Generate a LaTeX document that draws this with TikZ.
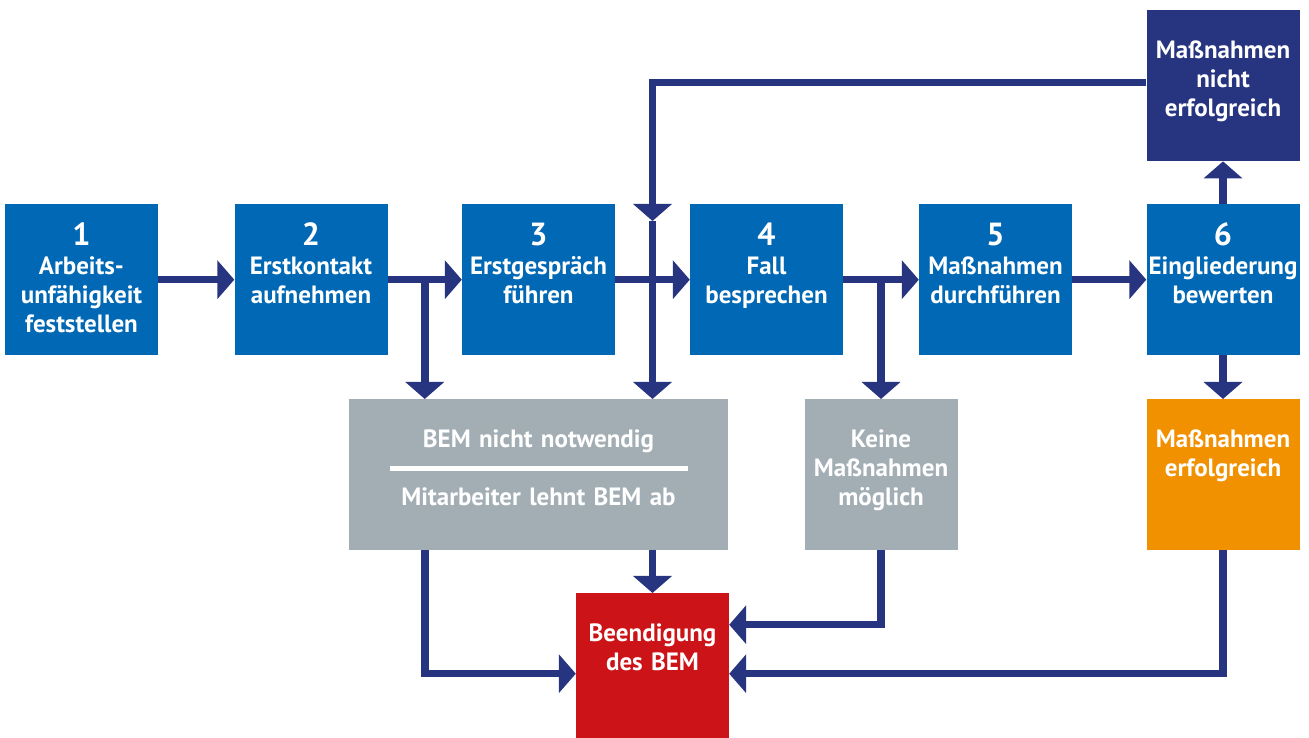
\documentclass[tikz,border=0pt]{standalone}
\usepackage{fontspec}
\setmainfont{PT Sans}
\usetikzlibrary{arrows.meta,calc}
\definecolor{bemblue}{RGB}{0,104,180}
\definecolor{bemnavy}{RGB}{39,52,127}
\definecolor{bemgrey}{RGB}{162,174,180}
\definecolor{bemorange}{RGB}{242,145,0}
\definecolor{bemred}{RGB}{204,20,24}
\tikzset{
  box/.style={fill=#1, text=white, font=\bfseries\fontsize{25}{29}\selectfont,
    anchor=north, inner sep=0pt, text width=153pt, align=center,
    text height=48pt, text depth=103pt},
  numbox/.style={box=bemblue, text height=41pt, text depth=110pt},
  link/.style={draw=bemnavy, line width=7.5pt}
}
\newcommand{\stepno}[1]{{\fontsize{32}{29}\selectfont #1}\\}
\begin{document}
\begin{tikzpicture}[x=1pt, y=1pt, >={Triangle[length=17pt,width=38pt]}]
    \useasboundingbox (0,0) rectangle (1309,738);
    \node[numbox] (s1) at (81.5,534) {\stepno{1}Arbeits-\\unfähigkeit\\feststellen};
    \node[numbox] (s2) at (311,534) {\stepno{2}Erstkontakt\\aufnehmen};
    \node[numbox] (s3) at (538.5,534) {\stepno{3}Erstgespräch\\führen};
    \node[numbox] (s4) at (766.5,534) {\stepno{4}Fall\\besprechen};
    \node[numbox] (s5) at (995.5,534) {\stepno{5}Maßnahmen\\durchführen};
    \node[numbox] (s6) at (1223,534) {\stepno{6}Eingliederung\\bewerten};
    \node[box=bemnavy] (fail) at (1223,728) {Maßnahmen\\nicht\\erfolgreich};
    \node[box=bemgrey, text width=379pt] (notneeded) at (538.5,339)
        {BEM nicht notwendig\\\rule[5pt]{298pt}{5pt}\\Mitarbeiter lehnt BEM ab};
    \node[box=bemgrey] (none) at (881,339) {Keine\\Maßnahmen\\möglich};
    \node[box=bemorange] (success) at (1223,339) {Maßnahmen\\erfolgreich};
    \node[box=bemred] (stop) at (652.5,145) {Beendigung\\des BEM};

    \draw[link,->] (s1) -- (s2);
    \draw[link,->] (s2) -- (s3);
    \draw[link,->] (s3) -- (s4);
    \draw[link,->] (s4) -- (s5);
    \draw[link,->] (s5) -- (s6);
    \draw[link,->] (s6) -- (fail);
    \draw[link,->] (s6) -- (success);

    \coordinate (b2) at ($(s2.east)!.5!(s3.west)$);
    \coordinate (b4) at ($(s4.east)!.5!(s5.west)$);
    \draw[link,->] (b2) -- (b2 |- notneeded.north);
    \draw[link,->] (b4) -- (b4 |- none.north);

    \path (stop.north |- s3.north) ++(0,-17) coordinate (loop);
    \draw[link,->] ([yshift=3pt]fail.west) -| (loop);
    \draw[link,->] (loop) -- (loop |- notneeded.north);

    \draw[link,->] (notneeded.south -| stop.north) -- (stop.north);
    \draw[link,->] (b2 |- notneeded.south) |- ([yshift=-5pt]stop.west);
    \draw[link,->] (none.south) |- ([yshift=44pt]stop.east);
    \draw[link,->] (success.south) |- ([yshift=-5pt]stop.east);
\end{tikzpicture}
\end{document}
